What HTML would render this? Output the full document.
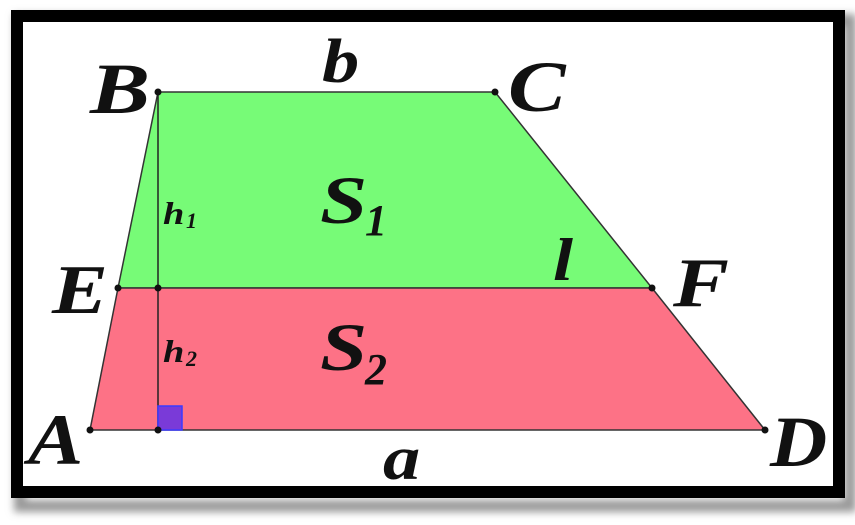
<!DOCTYPE html>
<html><head><style>
html,body{margin:0;padding:0;background:#fff;}
svg{display:block}
text{font-family:"Liberation Serif",serif;font-style:italic;font-weight:bold;fill:#111}
</style></head><body>
<svg width="855" height="525" viewBox="0 0 855 525">
<defs><filter id="sh" x="-5%" y="-5%" width="110%" height="115%"><feGaussianBlur stdDeviation="4"/></filter></defs>
<rect x="20" y="20" width="830" height="486" fill="none" stroke="#999" stroke-width="12" filter="url(#sh)"/>
<rect x="17" y="16" width="822" height="476" fill="#fff" stroke="#000" stroke-width="12"/>
<polygon points="158,92 495,92 652,288 118,288" fill="#77fb77" stroke="#333" stroke-width="1.5"/>
<polygon points="118,288 652,288 765,430 90,430" fill="#fd7286" stroke="#333" stroke-width="1.5"/>
<line x1="158" y1="92" x2="158" y2="430" stroke="#222" stroke-width="1.5"/>
<rect x="158" y="406" width="24" height="24" fill="#7a3ad8" stroke="#3a3aff" stroke-width="1.5"/>
<g fill="#111">
<circle cx="158" cy="92" r="3.5"/><circle cx="495" cy="92" r="3.5"/><circle cx="652" cy="288" r="3.5"/><circle cx="118" cy="288" r="3.5"/>
<circle cx="158" cy="288" r="3.5"/><circle cx="90" cy="430" r="3.5"/><circle cx="765" cy="430" r="3.5"/><circle cx="158" cy="430" r="3.5"/>
</g>
<g transform="translate(90,113) scale(1.25,1)"><text font-size="72">B</text></g>
<g transform="translate(322,82) scale(1.2,1)"><text font-size="62">b</text></g>
<g transform="translate(508,111) scale(1.2,1)"><text font-size="72">C</text></g>
<g transform="translate(320,223) scale(1.25,1)"><text font-size="68">S</text></g><text x="365" y="235" font-size="44">1</text>
<g transform="translate(163,224) scale(1.2,1)"><text font-size="32">h</text></g><text x="186" y="228" font-size="22">1</text>
<g transform="translate(52,313) scale(1.2,1)"><text font-size="70">E</text></g>
<g transform="translate(553,280) scale(1.2,1)"><text font-size="60">l</text></g>
<g transform="translate(673,306) scale(1.2,1)"><text font-size="70">F</text></g>
<g transform="translate(320,370) scale(1.25,1)"><text font-size="68">S</text></g><text x="365" y="384" font-size="44">2</text>
<g transform="translate(163,362) scale(1.2,1)"><text font-size="32">h</text></g><text x="186" y="366" font-size="22">2</text>
<g transform="translate(28,464) scale(1.15,1)"><text font-size="72">A</text></g>
<g transform="translate(383,479) scale(1.2,1)"><text font-size="62">a</text></g>
<g transform="translate(770,466) scale(1.1,1)"><text font-size="72">D</text></g>
</svg>
</body></html>
